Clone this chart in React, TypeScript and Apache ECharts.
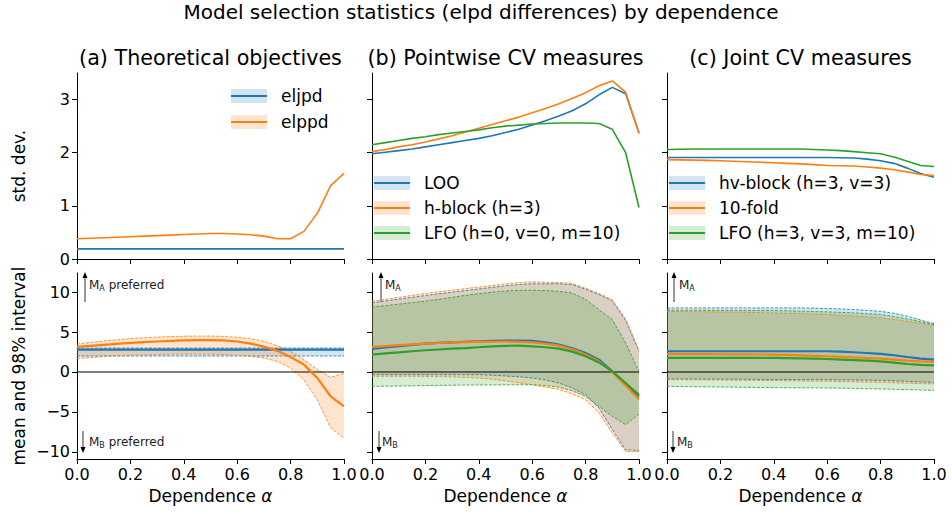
import React, { useEffect, useRef } from 'react';
import * as echarts from 'echarts';

const C0 = '#1f77b4';
const C1 = '#ff7f0e';
const C2 = '#2ca02c';
const A0 = 'rgba(31,119,180,0.2)';
const A1 = 'rgba(255,127,14,0.2)';
const A2 = 'rgba(44,160,44,0.2)';
const FONT = 'DejaVu Sans';

// dependence alpha grid
const X = [0, 0.05, 0.1, 0.15, 0.2, 0.25, 0.3, 0.35, 0.4, 0.45, 0.5, 0.55, 0.6, 0.65, 0.7, 0.75, 0.8, 0.85, 0.9, 0.95, 1];

// ---- top row: std. dev. ----
const sdA_eljpd = [0.19, 0.19, 0.19, 0.19, 0.19, 0.19, 0.19, 0.19, 0.19, 0.19, 0.19, 0.19, 0.19, 0.19, 0.19, 0.19, 0.19, 0.19, 0.19, 0.19, 0.19];
const sdA_elppd = [0.38, 0.39, 0.40, 0.41, 0.42, 0.43, 0.44, 0.45, 0.46, 0.47, 0.48, 0.48, 0.47, 0.455, 0.43, 0.38, 0.38, 0.52, 0.86, 1.38, 1.61];
const sdB_loo = [1.98, 2.01, 2.04, 2.07, 2.11, 2.15, 2.19, 2.23, 2.27, 2.32, 2.38, 2.44, 2.52, 2.60, 2.69, 2.79, 2.92, 3.09, 3.23, 3.11, 2.37];
const sdB_hblock = [2.02, 2.06, 2.11, 2.15, 2.20, 2.26, 2.32, 2.39, 2.46, 2.53, 2.60, 2.67, 2.75, 2.83, 2.92, 3.02, 3.13, 3.26, 3.35, 3.14, 2.36];
const sdB_lfo = [2.15, 2.19, 2.23, 2.27, 2.30, 2.34, 2.37, 2.40, 2.43, 2.47, 2.50, 2.52, 2.54, 2.55, 2.56, 2.56, 2.56, 2.55, 2.44, 2.00, 0.97];
const sdC_hv = [1.91, 1.91, 1.91, 1.91, 1.91, 1.91, 1.91, 1.91, 1.91, 1.91, 1.91, 1.91, 1.91, 1.905, 1.90, 1.88, 1.85, 1.80, 1.71, 1.61, 1.54];
const sdC_kfold = [1.87, 1.865, 1.86, 1.855, 1.85, 1.84, 1.83, 1.82, 1.81, 1.80, 1.79, 1.775, 1.76, 1.755, 1.75, 1.73, 1.71, 1.68, 1.64, 1.59, 1.57];
const sdC_lfo = [2.06, 2.065, 2.07, 2.07, 2.07, 2.07, 2.07, 2.07, 2.07, 2.07, 2.07, 2.06, 2.05, 2.04, 2.02, 2.00, 1.98, 1.92, 1.84, 1.76, 1.74];

// ---- bottom row: mean and 98% interval ----
const mA_eljpd = [2.8, 2.8, 2.8, 2.8, 2.8, 2.8, 2.8, 2.8, 2.8, 2.8, 2.8, 2.8, 2.8, 2.8, 2.8, 2.8, 2.8, 2.8, 2.8, 2.8, 2.8];
const loA_eljpd = [2.0, 2.0, 2.0, 2.0, 2.0, 2.0, 2.0, 2.0, 2.0, 2.0, 2.0, 2.0, 2.0, 2.0, 2.0, 2.0, 2.0, 2.0, 2.0, 2.0, 2.0];
const upA_eljpd = [3.0, 3.0, 3.0, 3.0, 3.0, 3.0, 3.0, 3.0, 3.0, 3.0, 3.0, 3.0, 3.0, 3.0, 3.0, 3.0, 3.0, 3.0, 3.0, 3.0, 3.0];
const mA_elppd = [3.14, 3.27, 3.40, 3.52, 3.64, 3.73, 3.82, 3.89, 3.95, 3.99, 4.00, 3.95, 3.82, 3.55, 3.18, 2.65, 1.88, 0.92, -0.75, -3.05, -4.30];
const upA_elppd = [3.50, 3.70, 3.88, 4.04, 4.18, 4.28, 4.37, 4.43, 4.48, 4.50, 4.50, 4.45, 4.35, 4.15, 3.85, 3.30, 2.60, 1.55, 0.30, -0.67, -0.17];
const loA_elppd = [1.65, 1.80, 1.92, 2.02, 2.10, 2.15, 2.20, 2.23, 2.25, 2.25, 2.23, 2.18, 2.10, 1.95, 1.75, 1.34, 0.50, -1.00, -3.50, -7.00, -8.30];

const upB_loo = [8.66, 8.90, 9.12, 9.35, 9.58, 9.80, 10.00, 10.20, 10.40, 10.60, 10.80, 10.95, 11.05, 11.05, 11.05, 10.95, 10.35, 9.70, 8.90, 6.45, 2.60];
const mB_loo = [2.89, 3.07, 3.23, 3.40, 3.56, 3.64, 3.72, 3.79, 3.85, 3.89, 3.92, 3.93, 3.90, 3.72, 3.43, 2.98, 2.38, 1.55, 0.08, -1.60, -3.05];
const loB_loo = [-0.33, -0.33, -0.33, -0.33, -0.33, -0.33, -0.33, -0.33, -0.33, -0.40, -0.50, -0.60, -0.75, -1.00, -1.38, -2.00, -2.85, -4.50, -7.20, -9.75, -9.83];
const upB_hb = [8.87, 9.10, 9.35, 9.60, 9.85, 10.05, 10.25, 10.45, 10.65, 10.85, 11.05, 11.20, 11.30, 11.25, 11.20, 11.10, 10.50, 9.85, 9.05, 6.65, 2.70];
const mB_hb = [3.14, 3.25, 3.36, 3.46, 3.56, 3.63, 3.70, 3.75, 3.80, 3.82, 3.82, 3.78, 3.72, 3.55, 3.30, 2.85, 2.18, 1.34, 0.00, -1.70, -3.40];
const loB_hb = [-0.54, -0.54, -0.54, -0.54, -0.55, -0.58, -0.62, -0.68, -0.75, -0.90, -1.10, -1.35, -1.60, -1.90, -2.20, -2.75, -3.50, -5.10, -7.66, -9.96, -9.96];
const upB_lfo = [8.16, 8.30, 8.50, 8.70, 8.87, 9.10, 9.35, 9.60, 9.80, 10.00, 10.15, 10.22, 10.25, 10.20, 10.10, 9.90, 9.10, 7.80, 6.57, 3.64, 0.08];
const mB_lfo = [2.18, 2.33, 2.46, 2.60, 2.72, 2.82, 2.92, 3.00, 3.10, 3.20, 3.28, 3.30, 3.22, 3.10, 2.93, 2.55, 1.97, 1.20, 0.08, -1.38, -2.85];
const loB_lfo = [-1.80, -1.78, -1.76, -1.73, -1.70, -1.68, -1.66, -1.64, -1.63, -1.62, -1.61, -1.60, -1.60, -1.70, -1.90, -2.35, -3.05, -4.30, -5.56, -6.60, -5.27];

const upC_hv = [8.03, 8.03, 8.03, 8.03, 8.03, 8.03, 8.03, 8.03, 8.03, 8.03, 8.03, 8.00, 7.95, 7.90, 7.82, 7.72, 7.60, 7.35, 6.99, 6.50, 6.07];
const mC_hv = [2.60, 2.60, 2.60, 2.60, 2.60, 2.60, 2.60, 2.60, 2.60, 2.60, 2.60, 2.60, 2.60, 2.55, 2.47, 2.38, 2.26, 2.10, 1.88, 1.68, 1.55];
const loC_hv = [-0.88, -0.88, -0.89, -0.89, -0.90, -0.90, -0.91, -0.92, -0.93, -0.94, -0.95, -0.95, -0.96, -0.98, -1.00, -1.02, -1.05, -1.10, -1.17, -1.24, -1.30];
const upC_kf = [7.60, 7.58, 7.56, 7.54, 7.52, 7.50, 7.47, 7.44, 7.40, 7.36, 7.32, 7.26, 7.20, 7.10, 7.00, 6.90, 6.78, 6.58, 6.36, 6.10, 5.86];
const mC_kf = [2.26, 2.25, 2.24, 2.23, 2.22, 2.21, 2.20, 2.19, 2.18, 2.14, 2.09, 2.03, 1.97, 1.90, 1.82, 1.75, 1.67, 1.55, 1.42, 1.33, 1.26];
const loC_kf = [-0.96, -0.97, -0.98, -0.99, -1.00, -1.02, -1.04, -1.06, -1.08, -1.10, -1.12, -1.15, -1.17, -1.20, -1.23, -1.27, -1.30, -1.35, -1.40, -1.45, -1.50];
const upC_lfo = [7.74, 7.74, 7.73, 7.72, 7.72, 7.71, 7.70, 7.70, 7.70, 7.66, 7.62, 7.58, 7.53, 7.47, 7.40, 7.30, 7.20, 6.95, 6.65, 6.30, 5.94];
const mC_lfo = [1.76, 1.76, 1.76, 1.76, 1.76, 1.76, 1.76, 1.76, 1.76, 1.73, 1.70, 1.67, 1.63, 1.56, 1.49, 1.42, 1.34, 1.18, 1.00, 0.90, 0.84];
const loC_lfo = [-1.80, -1.82, -1.84, -1.86, -1.88, -1.90, -1.92, -1.94, -1.96, -1.97, -1.98, -1.99, -2.00, -2.03, -2.06, -2.10, -2.13, -2.17, -2.21, -2.26, -2.30];

const ZERO_X = [0, 1];
const ZERO_Y = [0, 0];

// tick labels
const X_TICKS = [0, 0.2, 0.4, 0.6, 0.8, 1.0];
const Y_TICKS_TOP = [0, 1, 2, 3];
const Y_TICKS_BOTTOM = [-10, -5, 0, 5, 10];

const TITLES = ['(a) Theoretical objectives', '(b) Pointwise CV measures', '(c) Joint CV measures'];
const LEGENDS = [
  ['eljpd', 'elppd'],
  ['LOO', 'h-block (h=3)', 'LFO (h=0, v=0, m=10)'],
  ['hv-block (h=3, v=3)', '10-fold', 'LFO (h=3, v=3, m=10)'],
];

// layout (pixels)
const COL_LEFT = [77, 372, 667];
const GRID_W = 267;
const ROW_TOP = [73, 273];
const GRID_H = 186;

function pairs(xs: number[], ys: number[]) {
  return xs.map((x, k) => [x, ys[k]]);
}

function meanLine(name: string, idx: number, ys: number[], color: string, width: number) {
  return {
    type: 'line',
    name,
    xAxisIndex: idx,
    yAxisIndex: idx,
    data: pairs(X, ys),
    symbol: 'none',
    showSymbol: false,
    color,
    lineStyle: { color, width },
    itemStyle: { color },
    z: 5,
    silent: true,
  };
}

function band(idx: number, lo: number[], up: number[], color: string, fill: string) {
  const poly = {
    type: 'custom',
    name: 'band',
    xAxisIndex: idx,
    yAxisIndex: idx,
    data: X.map((x, k) => [x, lo[k], up[k]]),
    encode: { x: 0, y: [1, 2] },
    renderItem: (params: any, api: any) => {
      if (params.dataIndex !== 0) return null;
      const pts: number[][] = [];
      for (let k = 0; k < X.length; k++) pts.push(api.coord([X[k], lo[k]]));
      for (let k = X.length - 1; k >= 0; k--) pts.push(api.coord([X[k], up[k]]));
      return { type: 'polygon', shape: { points: pts }, style: { fill } };
    },
    silent: true,
    z: 1,
  };
  const edge = (ys: number[]) => ({
    type: 'line',
    name: 'edge',
    xAxisIndex: idx,
    yAxisIndex: idx,
    data: pairs(X, ys),
    symbol: 'none',
    showSymbol: false,
    lineStyle: { color, width: 0.8, type: [3, 1.5] },
    z: 2,
    silent: true,
  });
  return [poly, edge(lo), edge(up)];
}

const fmtNum = (v: number) => String(v).replace('-', '\u2212');

export default function App() {
  const ref = useRef<HTMLDivElement>(null);

  useEffect(() => {
    if (!ref.current) return;
    const chart = echarts.init(ref.current, undefined, { renderer: 'svg' });

    const grids: any[] = [];
    const xAxes: any[] = [];
    const yAxes: any[] = [];
    for (let r = 0; r < 2; r++) {
      for (let c = 0; c < 3; c++) {
        const i = r * 3 + c;
        grids.push({ left: COL_LEFT[c], top: ROW_TOP[r], width: GRID_W, height: GRID_H, containLabel: false });
        xAxes.push({
          type: 'value',
          gridIndex: i,
          min: 0,
          max: 1,
          interval: 0.2,
          axisLine: { show: true, onZero: false, lineStyle: { color: '#000', width: 1 } },
          axisTick: { show: true, length: 5, lineStyle: { color: '#000', width: 1 }, customValues: X_TICKS },
          axisLabel: {
            show: r === 1,
            customValues: X_TICKS,
            formatter: (v: number) => v.toFixed(1),
            fontSize: 16,
            fontFamily: FONT,
            color: '#000',
            margin: 7,
            showMinLabel: true,
            showMaxLabel: true,
          },
          splitLine: { show: false },
          name: r === 1 ? 'Dependence {i|α}' : '',
          nameLocation: 'middle',
          nameGap: 28,
          nameTextStyle: {
            fontSize: 17,
            fontFamily: FONT,
            color: '#000',
            rich: { i: { fontSize: 17, fontFamily: FONT, fontStyle: 'italic', color: '#000' } },
          },
        });
        const ticks = r === 0 ? Y_TICKS_TOP : Y_TICKS_BOTTOM;
        yAxes.push({
          type: 'value',
          gridIndex: i,
          min: r === 0 ? 0 : -10.9,
          max: r === 0 ? 3.5 : 12.4,
          axisLine: { show: true, onZero: false, lineStyle: { color: '#000', width: 1 } },
          axisTick: { show: true, length: 5, lineStyle: { color: '#000', width: 1 }, customValues: ticks },
          axisLabel: {
            show: c === 0,
            customValues: ticks,
            formatter: (v: number) => fmtNum(v),
            fontSize: 16,
            fontFamily: FONT,
            color: '#000',
            margin: 7,
          },
          splitLine: { show: false },
          name: c === 0 ? (r === 0 ? 'std. dev.' : 'mean and 98% interval') : '',
          nameLocation: 'middle',
          nameGap: 50,
          nameTextStyle: { fontSize: 17, fontFamily: FONT, color: '#000' },
        });
      }
    }

    const series: any[] = [
      // top row
      meanLine('eljpd', 0, sdA_eljpd, C0, 1.6),
      meanLine('elppd', 0, sdA_elppd, C1, 1.6),
      meanLine('LOO', 1, sdB_loo, C0, 1.6),
      meanLine('h-block (h=3)', 1, sdB_hblock, C1, 1.6),
      meanLine('LFO (h=0, v=0, m=10)', 1, sdB_lfo, C2, 1.6),
      meanLine('hv-block (h=3, v=3)', 2, sdC_hv, C0, 1.6),
      meanLine('10-fold', 2, sdC_kfold, C1, 1.6),
      meanLine('LFO (h=3, v=3, m=10)', 2, sdC_lfo, C2, 1.6),
      // bottom row bands
      ...band(3, loA_eljpd, upA_eljpd, C0, A0),
      ...band(3, loA_elppd, upA_elppd, C1, A1),
      ...band(4, loB_loo, upB_loo, C0, A0),
      ...band(4, loB_hb, upB_hb, C1, A1),
      ...band(4, loB_lfo, upB_lfo, C2, A2),
      ...band(5, loC_hv, upC_hv, C0, A0),
      ...band(5, loC_kf, upC_kf, C1, A1),
      ...band(5, loC_lfo, upC_lfo, C2, A2),
    ];
    // zero lines
    for (let i = 3; i < 6; i++) {
      series.push({
        type: 'line',
        name: 'zero',
        xAxisIndex: i,
        yAxisIndex: i,
        data: pairs(ZERO_X, ZERO_Y),
        symbol: 'none',
        lineStyle: { color: '#000', width: 1 },
        z: 3,
        silent: true,
      });
    }
    series.push(
      meanLine('eljpd', 3, mA_eljpd, C0, 2.2),
      meanLine('elppd', 3, mA_elppd, C1, 2.2),
      meanLine('LOO', 4, mB_loo, C0, 2.2),
      meanLine('h-block (h=3)', 4, mB_hb, C1, 2.2),
      meanLine('LFO (h=0, v=0, m=10)', 4, mB_lfo, C2, 2.2),
      meanLine('hv-block (h=3, v=3)', 5, mC_hv, C0, 2.2),
      meanLine('10-fold', 5, mC_kf, C1, 2.2),
      meanLine('LFO (h=3, v=3, m=10)', 5, mC_lfo, C2, 2.2),
    );

    const legendPos = [
      { left: 231, top: 86, gap: 6 },
      { left: 374, top: 173, gap: 5 },
      { left: 669, top: 173, gap: 5 },
    ];
    const fills = [A0, A1, A2];
    const legends = LEGENDS.map((names, c) => ({
      data: names,
      orient: 'vertical',
      left: legendPos[c].left,
      top: legendPos[c].top,
      padding: 0,
      itemGap: legendPos[c].gap,
      itemWidth: 36,
      itemHeight: 2,
      icon: 'rect',
      itemStyle: { borderWidth: 0 },
      selectedMode: false,
      textStyle: { fontSize: 17, fontFamily: FONT, color: '#000', lineHeight: 20, padding: [0, 0, 0, 9] },
    }));

    const graphics: any[] = [];
    LEGENDS.forEach((names, c) => {
      names.forEach((_, k) => {
        graphics.push({
          type: 'rect',
          z: 0,
          silent: true,
          shape: { x: legendPos[c].left, y: legendPos[c].top + k * (20 + legendPos[c].gap) + 3, width: 36, height: 14 },
          style: { fill: fills[k] },
        });
      });
    });

    const annotRich = {
      m: { fontSize: 12, fontFamily: FONT, fill: '#222', lineHeight: 14 },
      s: { fontSize: 8, fontFamily: FONT, fill: '#222', lineHeight: 8, verticalAlign: 'bottom' },
    };
    const annots = [
      { ux: 85, tx: 89, dx: 83, dtx: 89, a: '{m|M}{s|A}{m| preferred}', b: '{m|M}{s|B}{m| preferred}' },
      { ux: 381, tx: 385, dx: 379, dtx: 382, a: '{m|M}{s|A}', b: '{m|M}{s|B}' },
      { ux: 674, tx: 679, dx: 673, dtx: 677, a: '{m|M}{s|A}', b: '{m|M}{s|B}' },
    ];
    annots.forEach((an) => {
      graphics.push(
        { type: 'line', silent: true, shape: { x1: an.ux, y1: 302, x2: an.ux, y2: 277 }, style: { stroke: '#555', lineWidth: 1.2 } },
        { type: 'polygon', silent: true, shape: { points: [[an.ux - 2.5, 278], [an.ux + 2.5, 278], [an.ux, 272]] }, style: { fill: '#000' } },
        { type: 'text', silent: true, x: an.tx, y: 285, style: { text: an.a, rich: annotRich, verticalAlign: 'middle', align: 'left' } },
        { type: 'line', silent: true, shape: { x1: an.dx, y1: 431, x2: an.dx, y2: 448 }, style: { stroke: '#555', lineWidth: 1.2 } },
        { type: 'polygon', silent: true, shape: { points: [[an.dx - 2.5, 447], [an.dx + 2.5, 447], [an.dx, 453]] }, style: { fill: '#000' } },
        { type: 'text', silent: true, x: an.dtx, y: 442, style: { text: an.b, rich: annotRich, verticalAlign: 'middle', align: 'left' } },
      );
    });

    const titleStyle = { fontSize: 20.7, fontWeight: 'normal', fontFamily: FONT, color: '#000' };
    const titles: any[] = [
      {
        text: 'Model selection statistics (elpd differences) by dependence',
        left: 481,
        top: 2,
        textAlign: 'center',
        padding: 0,
        textStyle: { ...titleStyle, fontSize: 20 },
      },
      ...TITLES.map((t, c) => ({
        text: t,
        left: COL_LEFT[c] + GRID_W / 2,
        top: 47,
        textAlign: 'center',
        padding: 0,
        textStyle: titleStyle,
      })),
    ];

    chart.setOption({
      animation: false,
      backgroundColor: '#fff',
      textStyle: { fontFamily: FONT },
      title: titles,
      grid: grids,
      xAxis: xAxes,
      yAxis: yAxes,
      legend: legends,
      series,
      graphic: graphics,
    });

    return () => chart.dispose();
  }, []);

  return (
    <div
      ref={ref}
      style={{ position: 'fixed', left: 0, top: 0, width: 952, height: 514, background: '#fff' }}
    />
  );
}
